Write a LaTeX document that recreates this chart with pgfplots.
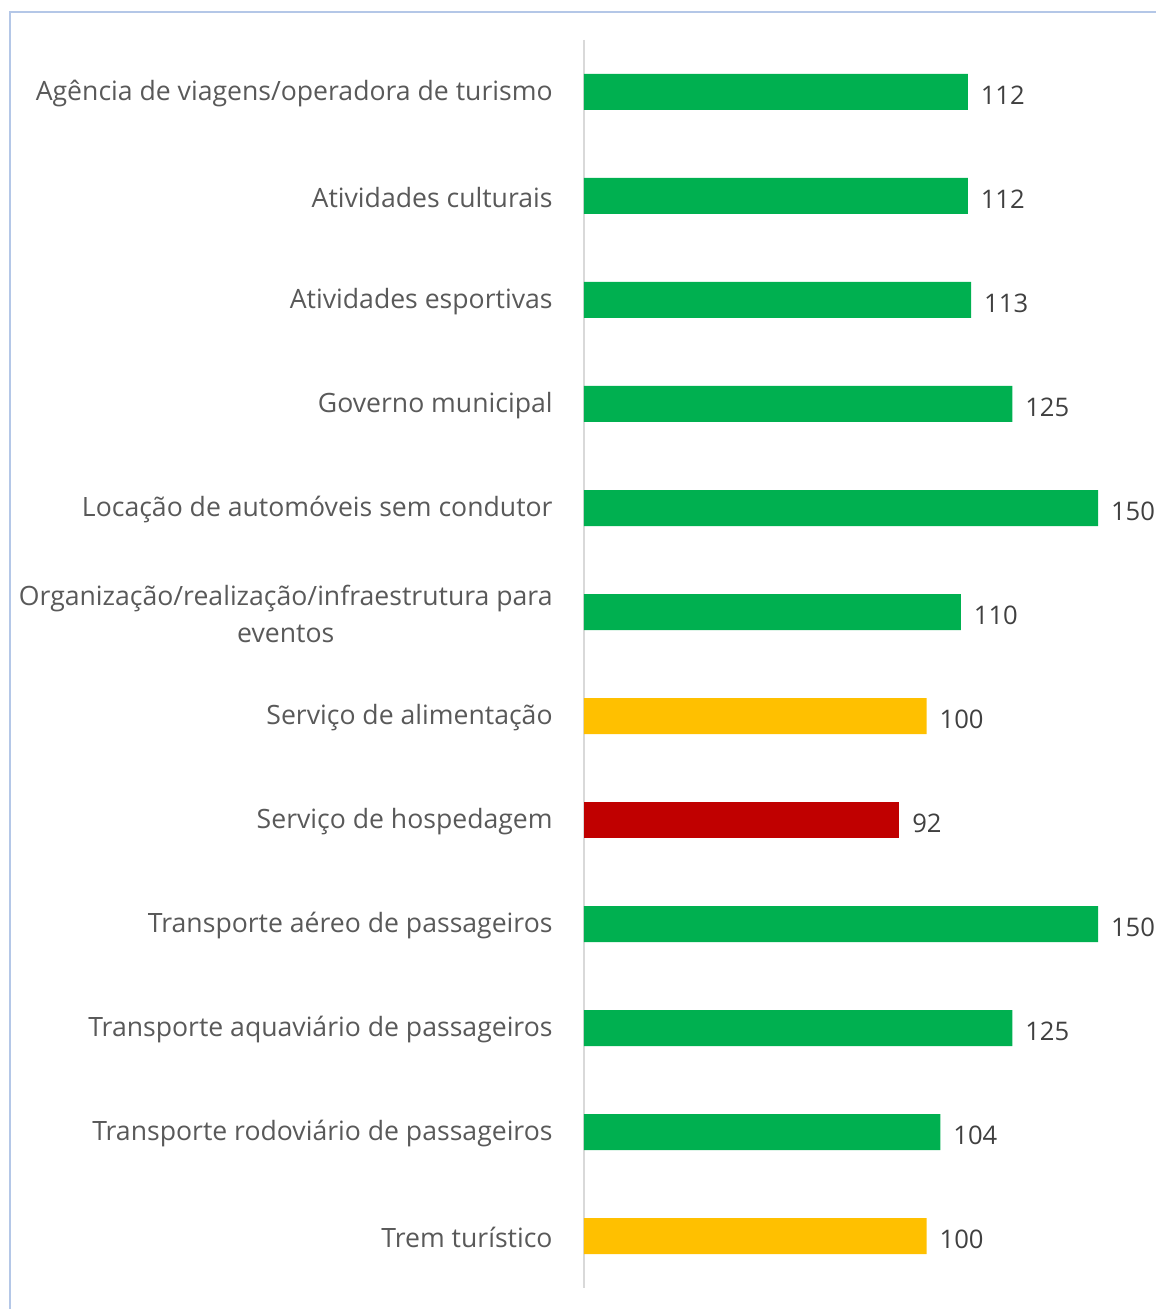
\documentclass[border=0pt]{standalone}
\usepackage{pgfplots}
\pgfplotsset{compat=1.18}
\usepackage{fontspec}
\setmainfont{Open Sans}
\definecolor{cgreen}{HTML}{00B050}
\definecolor{cyellow}{HTML}{FFC000}
\definecolor{cred}{HTML}{C00000}
\definecolor{labgray}{HTML}{595959}
\definecolor{valgray}{HTML}{404040}
\definecolor{framebl}{HTML}{B4C7E7}
\definecolor{axgray}{HTML}{D9D9D9}
\begin{document}
\begin{tikzpicture}
\path[use as bounding box] (-292pt,-10.5pt) rectangle (285.5pt,644pt);
\draw[framebl, line width=1pt] (-287pt,-20pt) -- (-287pt,638pt) -- (300pt,638pt);
\begin{axis}[
  at={(0,0)}, anchor=south west,
  scale only axis,
  width=257pt, height=624pt,
  xbar, bar shift=0pt, bar width=18pt,
  xmin=0, xmax=150,
  ymin=-0.5, ymax=11.5,
  y dir=reverse,
  axis x line=none,
  axis y line*=left,
  y axis line style={draw=axgray, line width=1pt, -},
  ytick={0,...,11},
  yticklabels={
    {Agência de viagens/operadora de turismo},
    {Atividades culturais},
    {Atividades esportivas},
    {Governo municipal},
    {Locação de automóveis sem condutor},
    {Organização/realização/infraestrutura para\\eventos},
    {Serviço de alimentação},
    {Serviço de hospedagem},
    {Transporte aéreo de passageiros},
    {Transporte aquaviário de passageiros},
    {Transporte rodoviário de passageiros},
    {Trem turístico}},
  major tick length=0pt,
  yticklabel style={font=\fontsize{13.3}{18.5}\selectfont, text=labgray, align=center, anchor=east, inner sep=0pt, xshift=-15.5pt, yshift=-0.8pt},
  /pgf/number format/assume math mode=true,
  nodes near coords,
  every node near coord/.append style={font=\fontsize{12.8}{15}\selectfont, text=valgray, anchor=west, inner sep=0pt, xshift=6.3pt, yshift=-1.5pt},
  clip=false,
]
\addplot[draw=none, fill=cgreen] coordinates {(112,0) (112,1) (113,2) (125,3) (150,4) (110,5) (150,8) (125,9) (104,10)};
\addplot[draw=none, fill=cyellow] coordinates {(100,6) (100,11)};
\addplot[draw=none, fill=cred] coordinates {(92,7)};
\end{axis}
\end{tikzpicture}
\end{document}
